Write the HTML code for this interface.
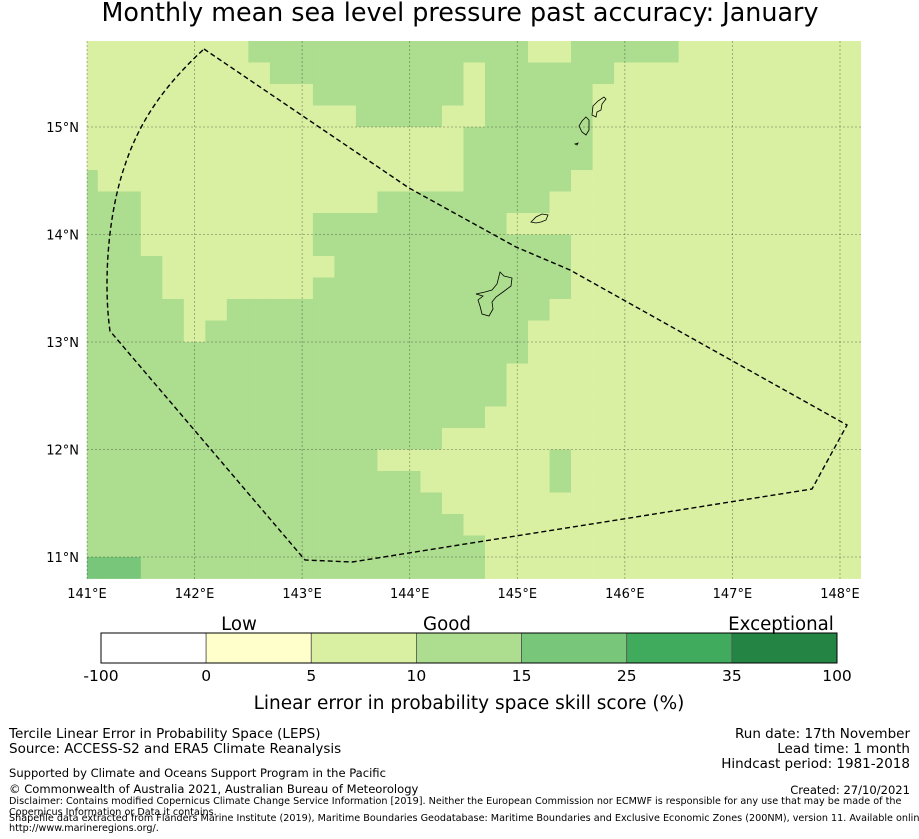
<!DOCTYPE html>
<html><head><meta charset="utf-8"><style>
html,body{margin:0;padding:0;background:#fff;}
svg{display:block;font-family:"DejaVu Sans","Liberation Sans",sans-serif;}
</style></head><body>
<svg id="fig" width="919" height="839" viewBox="0 0 919 839" xmlns="http://www.w3.org/2000/svg">
<text x="460" y="21" font-size="25.4" text-anchor="middle" fill="#000">Monthly mean sea level pressure past accuracy: January</text>
<defs><clipPath id="mapclip"><rect x="87" y="41" width="774" height="538"/></clipPath></defs>
<g id="cells" clip-path="url(#mapclip)"></g>
<g id="grid"></g>
<g id="islands" fill="none" stroke="#000" stroke-width="0.8">
<path d="M500,272 L504,276 L512,278 L511,286 L503,292 L496,297 L492,302 L493,309 L489,316 L482,314 L480,306 L478,300 L483,296 L476,294 L485,292 L492,290 L497,284 Z"/>
<path d="M531,222 L536,217 L542,214 L548,215 L546,220 L541,222 L536,223 Z"/>
<path d="M586,117 L589,120 L589,130 L586,135 L582,132 L579,126 L582,121 Z"/>
<path d="M604,97 L606,99 L602,104 L601,110 L597,112 L596,117 L592,115 L593,106 L598,101 Z"/>
<path d="M575,144 L578,143 L577,145 Z"/>
</g>
<path fill="none" stroke="#000" stroke-width="1.4" stroke-dasharray="5,3"
 d="M204,49 L409,188 L516,247 L570,270 L847,425 L812,489 L352,562 L305,560 L110,331 C104,290 106,220 125,165 C140,120 165,85 204,49 Z"/>
<g id="axes" font-size="13" fill="#000"></g>

<g id="colorbar"></g>
<text x="239" y="630" font-size="18.2" text-anchor="middle">Low</text>
<text x="447" y="630" font-size="18.2" text-anchor="middle">Good</text>
<text x="781" y="630" font-size="18.2" text-anchor="middle">Exceptional</text>
<text x="469" y="709" font-size="18.5" text-anchor="middle">Linear error in probability space skill score (%)</text>

<g font-size="13.5">
<text x="9" y="738">Tercile Linear Error in Probability Space (LEPS)</text>
<text x="9" y="753">Source: ACCESS-S2 and ERA5 Climate Reanalysis</text>
<text x="9" y="777" font-size="11.55">Supported by Climate and Oceans Support Program in the Pacific</text>
<text x="9" y="793" font-size="11.55">© Commonwealth of Australia 2021, Australian Bureau of Meteorology</text>
<text x="9" y="804" font-size="9.65">Disclaimer: Contains modified Copernicus Climate Change Service Information [2019]. Neither the European Commission nor ECMWF is responsible for any use that may be made of the</text>
<text x="9" y="815" font-size="9.65">Copernicus Information or Data it contains.</text>
<text x="9" y="821" font-size="9.65">Shapefile data extracted from Flanders Marine Institute (2019), Maritime Boundaries Geodatabase: Maritime Boundaries and Exclusive Economic Zones (200NM), version 11. Available online at</text>
<text x="9" y="831" font-size="9.65">http://www.marineregions.org/.</text>
</g>
<g font-size="13.5" text-anchor="end">
<text x="910" y="738">Run date: 17th November</text>
<text x="910" y="753">Lead time: 1 month</text>
<text x="910" y="768">Hindcast period: 1981-2018</text>
<text x="910" y="794" font-size="11.55">Created: 27/10/2021</text>
</g>
</svg>
<script>
// Data: skill classes per grid cell (run-length: [class, count]), rows from north (15.8N) to south
const classValues = [null, 7, 12, 20]; // representative skill score per class
const gridRows = [
 [[1,8],[2,13],[1,2],[2,5],[1,9]],
 [[1,9],[2,9],[1,1],[2,6],[1,12]],
 [[1,11],[2,7],[1,1],[2,5],[1,13]],
 [[1,13],[2,4],[1,2],[2,5],[1,13]],
 [[1,18],[2,6],[1,13]],
 [[1,18],[2,6],[1,13]],
 [[2,1],[1,17],[2,5],[1,14]],
 [[2,3],[1,11],[2,8],[1,15]],
 [[2,3],[1,8],[2,9],[1,17]],
 [[2,3],[1,8],[2,12],[1,14]],
 [[2,4],[1,8],[2,11],[1,14]],
 [[2,4],[1,7],[2,12],[1,14]],
 [[2,5],[1,2],[2,15],[1,15]],
 [[2,5],[1,1],[2,15],[1,16]],
 [[2,21],[1,16]],
 [[2,20],[1,17]],
 [[2,20],[1,17]],
 [[2,19],[1,18]],
 [[2,17],[1,20]],
 [[2,14],[1,8],[2,1],[1,14]],
 [[2,16],[1,6],[2,1],[1,14]],
 [[2,17],[1,20]],
 [[2,18],[1,19]],
 [[2,19],[1,18]],
 [[3,3],[2,16],[1,18]]
];
const lonTicks = [141,142,143,144,145,146,147,148];
const latTicks = [11,12,13,14,15];
const cbBounds = [-100,0,5,10,15,25,35,100];
const cbColors = ["#ffffff","#ffffcc","#d9f0a3","#addd8e","#78c679","#41ab5d","#238443"];

const NS="http://www.w3.org/2000/svg";
const x0=87, lon0=141, pxLon=107.57, y15=127, pxLat=107.5;
const xOf = lon => x0 + (lon-lon0)*pxLon;
const yOf = lat => y15 + (15-lat)*pxLat;
const cellStep=0.2, topLat=15.8, firstLon=141.0;
function mk(tag, attrs, parent){const e=document.createElementNS(NS,tag);for(const k in attrs)e.setAttribute(k,attrs[k]);parent.appendChild(e);return e;}
function colorFor(v){for(let i=0;i<cbBounds.length-1;i++){if(v>=cbBounds[i]&&v<cbBounds[i+1])return cbColors[i];}return cbColors[cbColors.length-1];}

const cells=document.getElementById('cells');
gridRows.forEach((row,r)=>{
  let k=0;
  const latTop=topLat-r*cellStep, latBot=latTop-cellStep;
  row.forEach(([cls,n])=>{
    for(let j=0;j<n;j++,k++){
      const lonC=firstLon+k*cellStep;
      const xa=xOf(lonC-cellStep/2), xb=xOf(lonC+cellStep/2);
      const el=mk('rect',{x:xa.toFixed(2),y:yOf(latTop).toFixed(2),width:(xb-xa+0.4).toFixed(2),height:(yOf(latBot)-yOf(latTop)+0.4).toFixed(2),fill:colorFor(classValues[cls])},cells);
      
      
    }
  });
});

const grid=document.getElementById('grid');
const axes=document.getElementById('axes');
lonTicks.forEach(l=>{
  const x=xOf(l);
  const ln=mk('line',{x1:x,y1:41,x2:x,y2:579,stroke:"#000","stroke-opacity":"0.35","stroke-width":"0.8","stroke-dasharray":"2,2"},grid);
  
  
  const t=mk('text',{x:x,y:598,"text-anchor":"middle"},axes);
  t.textContent=l+"°E";
  
  
});
latTicks.forEach(l=>{
  const y=yOf(l);
  const ln=mk('line',{x1:87,y1:y,x2:861,y2:y,stroke:"#000","stroke-opacity":"0.35","stroke-width":"0.8","stroke-dasharray":"2,2"},grid);
  
  
  const t=mk('text',{x:79,y:y+5,"text-anchor":"end"},axes);
  t.textContent=l+"°N";
  
  
});

const cb=document.getElementById('colorbar');
const cbX=101, cbW=736, cbY=633, cbH=30, seg=cbW/cbColors.length;
cbColors.forEach((c,i)=>{
  const r=mk('rect',{x:cbX+i*seg,y:cbY,width:seg,height:cbH,fill:c,stroke:"#555","stroke-width":"0.8"},cb);
  
  
});
cbBounds.forEach((b,i)=>{
  const t=mk('text',{x:cbX+i*seg,y:681,"text-anchor":"middle","font-size":"15.5"},cb);
  t.textContent=String(b);
  
  
});
const fr=mk('rect',{x:cbX,y:cbY,width:cbW,height:cbH,fill:"none",stroke:"#000","stroke-width":"1"},cb);


</script>
</body></html>
